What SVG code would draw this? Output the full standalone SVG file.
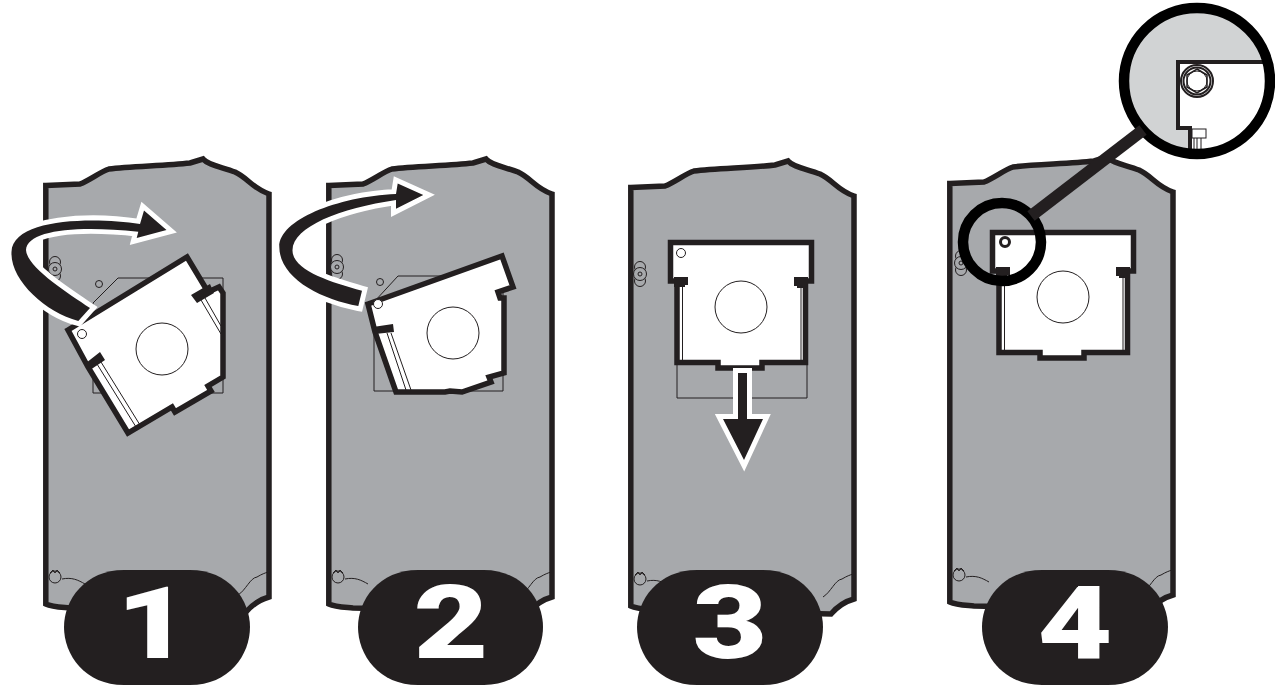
<svg xmlns="http://www.w3.org/2000/svg" width="1275" height="686" viewBox="0 0 1275 686">
<style>
.panel{fill:#a7a9ac;stroke:#231f20;stroke-width:5.500;stroke-linejoin:miter}
.thin{fill:none;stroke:#231f20;stroke-width:1}
.card{fill:#fff;stroke:#231f20;stroke-width:5.500;stroke-linejoin:miter}
.blk{fill:#231f20}
.strip{fill:none;stroke:#231f20;stroke-width:1}
.hole{fill:#fff;stroke:#231f20;stroke-width:1}
.ring{fill:none;stroke:#231f20;stroke-width:1}
.arrow{fill:#231f20;stroke:#fff;stroke-width:10;paint-order:stroke;stroke-linejoin:miter;stroke-miterlimit:6}
.oval{fill:#231f20}
.num{font-family:"Roboto","Liberation Sans",Arial,sans-serif;font-weight:900;font-size:101px;fill:#fff;text-anchor:middle}
.lens{fill:none;stroke:#000;stroke-width:10.500}
</style>
<defs>
<g id="panel-shape">
<path class="panel" d="M45.800 185.500 L80 184 C90 180 100 172 109 169 C130 166 165 166 190 163 L203 159 C208 165 222 167 235 172 C248 178 252 188 269 194 L269 597 C258 600 252 605 246 612 L70 608 C58 607 52 607 45.800 604 Z"/>
<path class="thin" d="M62 579 C72 577 78 580 85 584 M238 595 C246 590 250 578 257 577 C262 574 265 573 268 572"/>
<circle class="ring" cx="55" cy="577" r="6"/>
<path class="ring" d="M50 573 L53 570 L55 573 L57 570 L60 573"/>
</g>
<g id="bolt">
<circle class="ring" cx="0" cy="-7" r="5.500"/>
<circle class="ring" cx="0" cy="7" r="5.500"/>
<circle cx="0" cy="0" r="6.500" fill="#a7a9ac" stroke="#231f20" stroke-width="1"/>
<circle class="ring" cx="0" cy="0" r="2"/>
</g>
<g id="card-flat">
<path class="card" d="M-70.500 -64.500 H70.500 V-26 H64.500 V55.500 H21 V61 H-23 V55.500 H-64 V-26 H-70.500 Z"/>
<path class="blk" d="M-67 -30 H-53 V-22 H-56 V-20 H-67 Z M53 -30 H67 V-19 H56 V-21 H53 Z"/>
<path class="strip" d="M-58.500 -22 V54 M60 -22 V54"/>
<circle class="hole" cx="0" cy="0" r="26"/>
</g>
<clipPath id="lens-clip"><circle cx="1197" cy="81" r="69"/></clipPath>
</defs>

<g id="step-1">
<use href="#panel-shape"/>
<use href="#bolt" x="55" y="269"/>
<path class="thin" d="M93 393 V303 L118 278 H223 V393 Z"/>
<circle class="ring" cx="99" cy="284" r="3.500"/>
<path class="card" d="M68 330 L187 257 L208 292 L219 287 L223 293 V377 L208 386 L211 391 L175 412 L172 407 L128 433 L88 367 Z"/>
<path class="blk" d="M191 295 L210 284 L214 293 L197 303 Z M86 363 L100 352 L105 360 L90 370 Z"/>
<path class="strip" d="M97 364 L136 427 M101 362 L140 425 M201 300 L221 334 M205 298 L221 326"/>
<circle class="hole" cx="162" cy="349" r="26"/>
<circle class="hole" cx="82" cy="334" r="4.500"/>
<path class="arrow" d="M90 308 C66 292 27 267 26 250 C27 230 76.700 225 138.300 231.700 L136.700 238 L166.500 230 L144 210.500 L140 224 C93.300 216.700 12.700 218.300 11.500 251.700 C10 280 45 312 78.300 321 Z"/>
<path class="oval" d="M124 570 H190 C229 570 250 600 250 627 C250 655 229 685 190 685 H124 C85 685 64 655 64 627 C64 600 85 570 124 570 Z"/>
<text class="num" transform="translate(153 658) scale(1.25 1)" x="0" y="0">1</text>
</g>

<g id="step-2">
<use href="#panel-shape" x="283"/>
<use href="#bolt" x="337" y="267"/>
<path class="thin" d="M374 391 V302 L398 276 H503 V391 Z"/>
<circle class="ring" cx="380" cy="282" r="3.500"/>
<path class="card" d="M368 304 L502 256 L513 287 L498 292 L500 298 L504 298 V373 L489 377 L491 382 L462 392 L450 391 L445 392 H396 L375 332 Z"/>
<path class="blk" d="M373 327 L393 324 L394 332 L375 334 Z"/>
<path class="strip" d="M387 333 L406 390 M391 333 L411 390"/>
<circle class="hole" cx="453" cy="333" r="26"/>
<circle class="hole" cx="378" cy="304" r="4.500"/>
<path class="arrow" d="M362 290.700 C330 282 292 270 292.500 250 C293 226.700 340 208.300 396 200 L396 208.800 L423.300 195 L397.700 183.500 L396 194 C336.700 196.700 279.300 220 279.300 246.700 C279.300 278 320 299 358.300 306 Z"/>
<path class="oval" d="M418 570 H484 C522 570 543 600 543 627 C543 655 522 685 484 685 H418 C379 685 358 655 358 627 C358 600 379 570 418 570 Z"/>
<text class="num" transform="translate(451 658) scale(1.28 1)" x="0" y="0">2</text>
</g>

<g id="step-3">
<use href="#panel-shape" x="585" y="2"/>
<use href="#bolt" x="640" y="274"/>
<path class="thin" d="M677 360 V398 H807 V360"/>
<use href="#card-flat" x="741" y="307"/>
<circle class="hole" cx="681" cy="253" r="4.500"/>
<path class="arrow" d="M738 373 H747 V419 H763 L744 460 L723 419 H738 Z"/>
<path class="oval" d="M697 570 H763 C802 570 823 600 823 627 C823 655 802 685 763 685 H697 C658 685 637 655 637 627 C637 600 658 570 697 570 Z"/>
<text class="num" transform="translate(730 658) scale(1.28 1)" x="0" y="0">3</text>
</g>

<g id="step-4">
<use href="#panel-shape" x="904" y="-2"/>
<use href="#bolt" x="961" y="263"/>
<use href="#card-flat" x="1063" y="297"/>
<circle cx="1005" cy="242" r="4.500" fill="#fff" stroke="#231f20" stroke-width="3"/>
<path class="oval" d="M1042 570 H1108 C1147 570 1168 600 1168 627 C1168 655 1147 685 1108 685 H1042 C1003 685 982 655 982 627 C982 600 1003 570 1042 570 Z"/>
<text class="num" transform="translate(1075 658) scale(1.28 1)" x="0" y="0">4</text>
<circle class="lens" cx="1002" cy="242" r="39"/>
<g id="detail">
<circle cx="1197" cy="81" r="70" fill="#d1d3d4"/>
<g clip-path="url(#lens-clip)">
<path d="M1178 62 H1280 V160 H1190 V128 H1178 Z" fill="#fff" stroke="#231f20" stroke-width="4"/>
<rect x="1192" y="129" width="14" height="9" fill="#fff" stroke="#231f20" stroke-width="1"/>
<path class="strip" d="M1194 138 V152 M1197 138 V152 M1201 138 V152"/>
</g>
<circle cx="1197" cy="81" r="16" fill="#fff" stroke="#231f20" stroke-width="2"/>
<circle cx="1197" cy="81" r="13.500" fill="none" stroke="#231f20" stroke-width="2"/>
<path d="M1197 69 L1207 75 V87 L1197 93 L1187 87 V75 Z" fill="#fff" stroke="#231f20" stroke-width="1.500"/>
<circle cx="1197" cy="81" r="10" fill="none" stroke="#231f20" stroke-width="1"/>
</g>
<circle class="lens" cx="1197" cy="81" r="73"/>
</g>

<g id="connectors">
<path d="M1031 216 L1143 130" fill="none" stroke="#231f20" stroke-width="12"/>
</g>
</svg>
